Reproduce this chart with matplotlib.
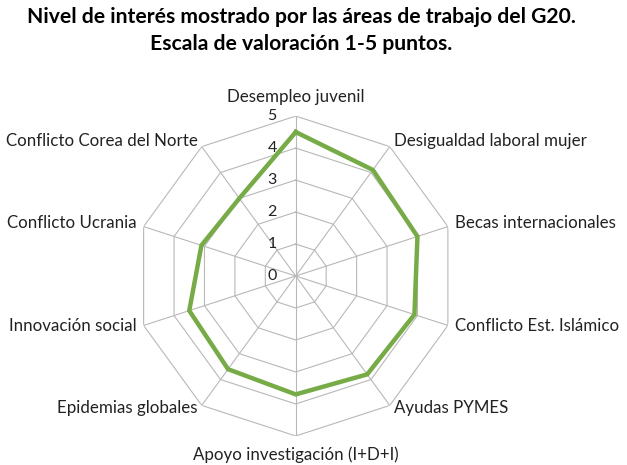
import numpy as np
import matplotlib.pyplot as plt

# data
categorias = ["Desempleo juvenil", "Desigualdad laboral mujer", "Becas internacionales",
              "Conflicto Est. Islámico", "Ayudas PYMES", "Apoyo investigación (I+D+I)",
              "Epidemias globales", "Innovación social", "Conflicto Ucrania",
              "Conflicto Corea del Norte"]
valores = [4.5, 4.1, 4.0, 3.9, 3.8, 3.7, 3.6, 3.5, 3.1, 3.0]
niveles = [0, 1, 2, 3, 4, 5]

plt.rcParams['font.family'] = ['Lato', 'DejaVu Sans']

n = len(categorias)
ang = np.linspace(0, 2 * np.pi, n, endpoint=False)
ang_c = np.append(ang, ang[0])
px = 0.72  # points per pixel at 100 dpi

fig = plt.figure(figsize=(6.27, 4.65), dpi=100)
ax = fig.add_axes([0.2165, 0.0624, 0.5104, 0.688], projection='polar')
ax.set_theta_zero_location('N')
ax.set_theta_direction(-1)
ax.set_ylim(0, 5)
ax.grid(False)
ax.spines['polar'].set_visible(False)
ax.set_xticks([])
ax.set_yticks([])
ax.patch.set_alpha(0)

# decagon grid
for r in niveles[1:]:
    ax.plot(ang_c, [r] * (n + 1), color='#b8b8b8', lw=0.8, zorder=1)
for a in ang:
    ax.plot([a, a], [0, 5], color='#b8b8b8', lw=0.8, zorder=1)

ax.plot(ang_c, np.append(valores, valores[0]), color='#76ab47', lw=3.2, zorder=3,
        solid_joinstyle='miter')

# radial labels
for r in niveles:
    ax.annotate(str(r), (0, r), xytext=(-19 * px, 0), textcoords='offset points',
                ha='right', va='center', fontsize=11.5, color='#222222')

# category labels
for a, lab in zip(ang, categorias):
    dx, dy = np.sin(a), np.cos(a)
    if abs(dx) < 0.01:
        ha = 'center'
        off = (0, 19 * px * np.sign(dy))
    else:
        ha = 'left' if dx > 0 else 'right'
        off = (7.4 * dx * px, (1.5 + 5.5 * dy) * px)
    ax.annotate(lab, (a, 5), xytext=off, textcoords='offset points',
                ha=ha, va='center', fontsize=12.2, color='#222222')

fig.text(0.48, 0.963, "Nivel de interés mostrado por las áreas de trabajo del G20.",
         ha='center', va='center', fontsize=15.2, fontweight='bold')
fig.text(0.48, 0.905, "Escala de valoración 1-5 puntos.",
         ha='center', va='center', fontsize=15.2, fontweight='bold')

fig.savefig('out.png', dpi=100)
